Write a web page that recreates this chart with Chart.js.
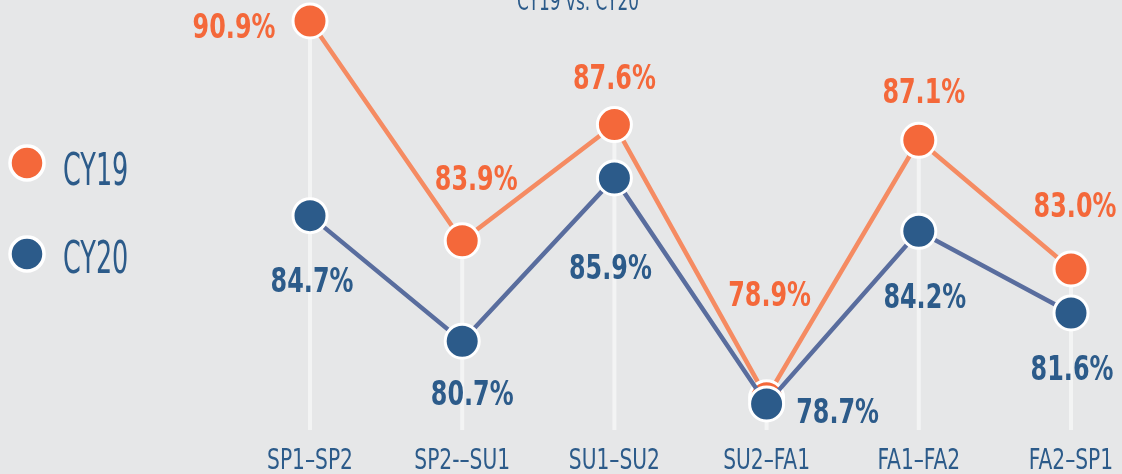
<!DOCTYPE html>
<html>
<head>
<meta charset="utf-8">
<script src="https://cdn.jsdelivr.net/npm/chart.js@4/dist/chart.umd.min.js"></script>
<style>
  html, body { margin: 0; padding: 0; background: #e6e7e8; }
  #wrap { width: 1122px; height: 474px; position: relative; overflow: hidden; }
  canvas { display: block; }
</style>
</head>
<body>
<div id="wrap"><canvas id="c" width="1122" height="474"></canvas></div>
<script>
// ---- data ----
const chartTitle = 'CY19 vs. CY20';
const categories = ['SP1–SP2', 'SP2-–SU1', 'SU1–SU2', 'SU2–FA1', 'FA1–FA2', 'FA2–SP1'];
const seriesNames = ['CY19', 'CY20'];
const cy19 = [90.9, 83.9, 87.6, 78.9, 87.1, 83.0];
const cy20 = [84.7, 80.7, 85.9, 78.7, 84.2, 81.6];

// ---- label placement (style, pixels relative to point) ----
const cy19LabelOffsets = [[-76, 4], [14, -64], [0, -49], [3, -105], [5, -50], [4, -65]];
const cy20LabelOffsets = [[2, 63], [10, 51], [-4, 88], [71, 6], [6, 64], [1, 54]];

const ORANGE = '#f4683a', ORANGE_LINE = '#f58b62';
const BLUE = '#2c5b8a', BLUE_LINE = '#596d9e';
const NARROW = '"DejaVu Sans Condensed", "Liberation Sans Narrow", sans-serif';

function drawText(ctx, text, x, y, font, color, align, sx) {
  ctx.save();
  ctx.font = font;
  ctx.fillStyle = color;
  ctx.textBaseline = 'alphabetic';
  ctx.textAlign = align;
  ctx.translate(x, y);
  ctx.scale(sx, 1);
  ctx.fillText(text, 0, 0);
  ctx.restore();
}

const decorPlugin = {
  id: 'decor',
  beforeDatasetsDraw(chart) {
    const ctx = chart.ctx, xs = chart.scales.x, ys = chart.scales.y;
    ctx.save();
    ctx.strokeStyle = '#f3f4f4';
    ctx.lineWidth = 4;
    categories.forEach((c, i) => {
      const x = xs.getPixelForValue(i);
      const top = Math.min(ys.getPixelForValue(cy19[i]), ys.getPixelForValue(cy20[i]));
      ctx.beginPath();
      ctx.moveTo(x, top);
      ctx.lineTo(x, chart.chartArea.bottom);
      ctx.stroke();
    });
    ctx.restore();
  },
  afterDraw(chart) {
    const ctx = chart.ctx, xs = chart.scales.x;
    // title
    drawText(ctx, chartTitle, 578, 10, '26px ' + NARROW, BLUE, 'center', 0.725);
    // x labels
    categories.forEach((c, i) => {
      drawText(ctx, c, xs.getPixelForValue(i), 469, '29px ' + NARROW, BLUE, 'center', 0.775);
    });
    // value labels
    const sets = [[cy19, cy19LabelOffsets, ORANGE], [cy20, cy20LabelOffsets, BLUE]];
    sets.forEach(([vals, offs, col], di) => {
      const meta = chart.getDatasetMeta(di);
      meta.data.forEach((pt, i) => {
        const x = pt.x + offs[i][0];
        const y = pt.y + offs[i][1] + 13;
        drawText(ctx, vals[i].toFixed(1) + '%', x, y, 'bold 34px ' + NARROW, col, 'center', 0.78);
      });
    });
    // legend
    const leg = [[seriesNames[0], ORANGE, 163, 185], [seriesNames[1], BLUE, 254, 273]];
    leg.forEach(([name, col, cy, base]) => {
      ctx.save();
      ctx.beginPath();
      ctx.arc(27, cy, 17, 0, Math.PI * 2);
      ctx.fillStyle = col;
      ctx.fill();
      ctx.lineWidth = 3.5;
      ctx.strokeStyle = '#ffffff';
      ctx.stroke();
      ctx.restore();
      drawText(ctx, name, 63, base, '45px ' + NARROW, BLUE, 'left', 0.63);
    });
  }
};

new Chart(document.getElementById('c'), {
  type: 'line',
  data: {
    labels: categories,
    datasets: [
      {
        label: seriesNames[0], data: cy19, order: 1,
        borderColor: ORANGE_LINE, borderWidth: 4.5,
        pointBackgroundColor: ORANGE, pointBorderColor: '#ffffff',
        pointBorderWidth: 3, pointRadius: 17, pointHoverRadius: 17,
        tension: 0, clip: false
      },
      {
        label: seriesNames[1], data: cy20, order: 0,
        borderColor: BLUE_LINE, borderWidth: 4.5,
        pointBackgroundColor: BLUE, pointBorderColor: '#ffffff',
        pointBorderWidth: 3, pointRadius: 17, pointHoverRadius: 17,
        tension: 0, clip: false
      }
    ]
  },
  options: {
    responsive: false,
    animation: false,
    events: [],
    layout: { autoPadding: false, padding: { left: 310, right: 51, top: 0, bottom: 44 } },
    scales: {
      x: { display: false, offset: false },
      y: { display: false, min: 77.87, max: 91.57 }
    },
    plugins: { legend: { display: false }, tooltip: { enabled: false } }
  },
  plugins: [decorPlugin]
});
</script>
</body>
</html>
